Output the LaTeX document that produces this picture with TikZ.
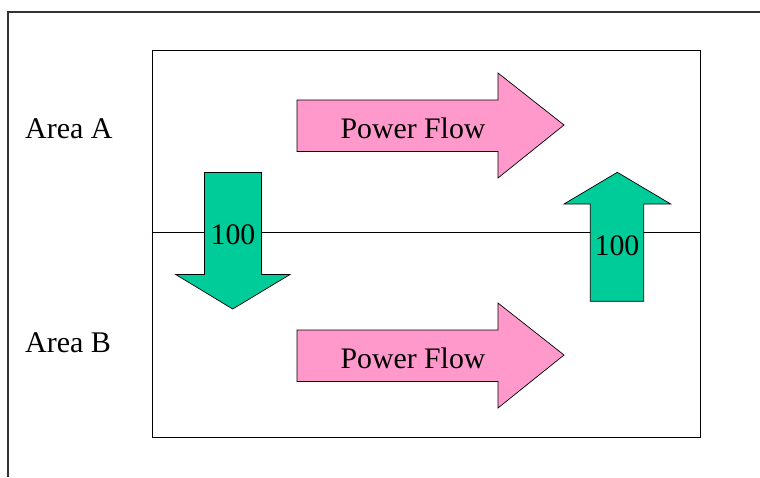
\documentclass[tikz,border=0pt]{standalone}
\usepackage{fontspec}
\setmainfont{Liberation Serif}
\definecolor{flowpink}{HTML}{FF99CC}
\definecolor{mwgreen}{HTML}{00CC99}
\tikzset{
  frameline/.style={draw=black!80, line width=1.1pt},
  boxline/.style={draw=black, line width=1pt},
  flowarrow/.style={draw=black, line width=0.7pt, fill=flowpink},
  mwarrow/.style={draw=black, line width=0.7pt, fill=mwgreen},
  lbl/.style={font=\fontsize{30}{34}\selectfont, inner sep=0pt},
  flowlbl/.style={font=\fontsize{29.8}{34}\selectfont, inner sep=0pt}
}
\begin{document}
\begin{tikzpicture}[x=1pt,y=-1pt]
\useasboundingbox (0,0) rectangle (760,477);
% outer frame
\coordinate (fTL) at (8,12);
\coordinate (fTR) at (760,12);
\coordinate (fBL) at (8,477);
\draw[frameline] (fTR) -- (fTL) -- (fBL);
% inner box
\node[boxline, minimum width=548pt, minimum height=387pt, inner sep=0pt] (box) at (426,243.5) {};
% tie line
\draw[boxline] (box.west |- 0,232.5) coordinate (tieL) -- (box.east |- 0,232.5) coordinate (tieR);
% area labels
\node[lbl, anchor=west] (areaA) at (25,129) {Area A};
\node[lbl, anchor=west] (areaB) at (25,343) {Area B};
% power flow arrows
\draw[flowarrow] (297,100) -- (498,100) -- (498,73) -- (564,125) -- (498,178) -- (498,151.5) -- (297,151.5) -- cycle;
\node[flowlbl] (pf1) at (413,128) {Power Flow};
\draw[flowarrow] (297,330) -- (498,330) -- (498,303) -- (564,355) -- (498,408) -- (498,381.5) -- (297,381.5) -- cycle;
\node[flowlbl] (pf2) at (413,358) {Power Flow};
% down arrow
\draw[mwarrow] (204.5,172.5) -- (261.5,172.5) -- (261.5,274.5) -- (290,274.5) -- (232.7,309) -- (175.7,274.5) -- (204.5,274.5) -- cycle;
\node[flowlbl] (d100) at (233,235) {100};
% up arrow
\draw[mwarrow] (590.3,301.3) -- (643.7,301.3) -- (643.7,204) -- (670.7,204) -- (617.3,172.3) -- (564,204) -- (590.3,204) -- cycle;
\node[flowlbl] (u100) at (617,246) {100};
\end{tikzpicture}
\end{document}
